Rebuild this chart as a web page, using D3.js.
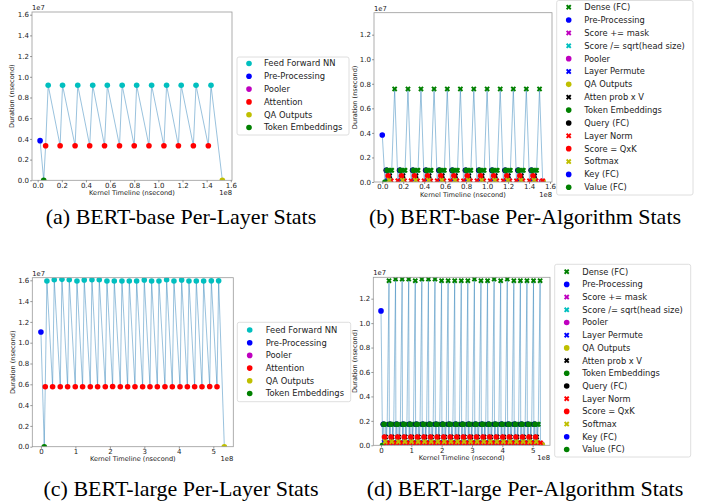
<!DOCTYPE html>
<html>
<head>
<meta charset="utf-8">
<script src="https://cdn.jsdelivr.net/npm/d3@7"></script>
<style>
body { margin: 0; background: #fff; }
text { font-family: "DejaVu Sans", sans-serif; fill: #222; }
.cap { font-family: "Liberation Serif", serif; fill: #000; }
</style>
</head>
<body>
<svg id="fig" width="707" height="502"></svg>
<script>
// x in units of 1e8 ns, y in units of 1e7 ns

// ---- per-layer categories
var layerCats = ["Feed Forward NN", "Pre-Processing", "Pooler", "Attention", "QA Outputs", "Token Embeddings"];

// BERT-base per layer
var basePre = [0.02, 0.383];
var baseTok = [0.05, 0.0];
var baseQa = [1.53, 0.0];
var baseAttnX = [0.066, 0.186, 0.31, 0.431, 0.554, 0.678, 0.8, 0.922, 1.046, 1.166, 1.29, 1.414];
var baseAttnY = [0.334, 0.334, 0.334, 0.334, 0.334, 0.334, 0.334, 0.334, 0.334, 0.334, 0.334, 0.334];
var baseFfnX = [0.087, 0.206, 0.332, 0.456, 0.577, 0.70, 0.82, 0.944, 1.068, 1.189, 1.312, 1.436];
var baseFfnY = [0.918, 0.918, 0.918, 0.918, 0.918, 0.918, 0.918, 0.918, 0.918, 0.918, 0.918, 0.918];

// BERT-large per layer
var largePre = [0.0, 1.103];
var largeTok = [0.097, 0.0];
var largeQa = [5.32, 0.0];
var largeAttnX = [0.126, 0.339, 0.561, 0.774, 0.996, 1.209, 1.432, 1.644, 1.867, 2.080, 2.302, 2.515,
                  2.728, 2.950, 3.163, 3.376, 3.598, 3.811, 4.034, 4.247, 4.459, 4.672, 4.895, 5.107];
var largeAttnY = [0.577, 0.577, 0.577, 0.577, 0.577, 0.577, 0.577, 0.577, 0.577, 0.579, 0.577, 0.577,
                  0.577, 0.577, 0.577, 0.577, 0.577, 0.577, 0.577, 0.577, 0.577, 0.577, 0.579, 0.577];
var largeFfnX = [0.174, 0.387, 0.610, 0.822, 1.045, 1.257, 1.480, 1.692, 1.915, 2.128, 2.350, 2.563,
                 2.776, 2.998, 3.211, 3.424, 3.646, 3.859, 4.082, 4.294, 4.507, 4.720, 4.943, 5.155];
var largeFfnY = [1.593, 1.606, 1.609, 1.606, 1.593, 1.603, 1.606, 1.606, 1.593, 1.593, 1.593, 1.593,
                 1.593, 1.603, 1.593, 1.593, 1.606, 1.593, 1.603, 1.593, 1.593, 1.593, 1.596, 1.596];

// ---- per-algorithm categories (legend order)
var algoCats = ["Dense (FC)", "Pre-Processing", "Score += mask", "Score /= sqrt(head size)", "Pooler",
                "Layer Permute", "QA Outputs", "Atten prob x V", "Token Embeddings", "Query (FC)",
                "Layer Norm", "Score = QxK", "Softmax", "Key (FC)", "Value (FC)"];

// kernels of one encoder layer, offset from the big Dense (FC) kernel
var opNames = ["Query (FC)", "Key (FC)", "Value (FC)", "Layer Permute", "Score = QxK",
               "Score /= sqrt(head size)", "Score += mask", "Softmax", "Atten prob x V", "Layer Permute",
               "Dense (FC)", "Layer Norm", "Dense (FC)", "Dense (FC)", "Layer Norm"];
var baseOpOffset = [-0.080, -0.076, -0.072, -0.068, -0.062, -0.058, -0.055, -0.052, -0.048, -0.044,
                    -0.038, -0.033, -0.028, 0, 0.030];
var baseOpDur = [0.095, 0.095, 0.095, 0.012, 0.050, 0.008, 0.008, 0.015, 0.050, 0.012,
                 0.095, 0.010, 0.095, null, 0.010];
var largeOpOffset = [-0.190, -0.180, -0.170, -0.160, -0.150, -0.140, -0.133, -0.126, -0.118, -0.110,
                     -0.100, -0.090, -0.060, 0, 0.012];
var largeOpDur = [0.172, 0.172, 0.172, 0.025, 0.068, 0.022, 0.022, 0.030, 0.068, 0.025,
                  0.172, 0.020, 0.172, null, 0.020];

var basePeakX = [0.118, 0.245, 0.369, 0.494, 0.620, 0.745, 0.873, 1.000, 1.125, 1.250, 1.374, 1.500];
var basePeakY = [0.758, 0.758, 0.758, 0.758, 0.758, 0.758, 0.758, 0.758, 0.758, 0.758, 0.758, 0.758];
var baseAlgoHead = [["Pre-Processing", 0.0, 0.383], ["Token Embeddings", 0.026, 0.0]];
var baseAlgoTail = [["Pooler", 1.52, 0.005], ["QA Outputs", 1.535, 0.003]];

var largePeakX = [0.264, 0.480, 0.697, 0.914, 1.130, 1.347, 1.564, 1.780, 1.997, 2.213, 2.430, 2.647,
                  2.863, 3.080, 3.296, 3.513, 3.730, 3.946, 4.163, 4.380, 4.596, 4.813, 5.029, 5.246];
var largePeakY = [1.347, 1.361, 1.361, 1.361, 1.347, 1.361, 1.361, 1.361, 1.347, 1.347, 1.347, 1.347,
                  1.347, 1.361, 1.347, 1.347, 1.361, 1.347, 1.361, 1.347, 1.347, 1.347, 1.347, 1.347];
var largeAlgoHead = [["Pre-Processing", 0.0, 1.10], ["Token Embeddings", 0.05, 0.0]];
var largeAlgoTail = [["Pooler", 5.30, 0.01], ["QA Outputs", 5.32, 0.005]];

var captions = ["(a) BERT-base Per-Layer Stats", "(b) BERT-base Per-Algorithm Stats",
                "(c) BERT-large Per-Layer Stats", "(d) BERT-large Per-Algorithm Stats"];

// ---- styles
var style = {
  "Feed Forward NN": ["#00bfbf", "o"], "Pre-Processing": ["#0000ff", "o"], "Pooler": ["#bf00bf", "o"],
  "Attention": ["#ff0000", "o"], "QA Outputs": ["#bfbf00", "o"], "Token Embeddings": ["#008000", "o"],
  "Dense (FC)": ["#008000", "x"], "Score += mask": ["#bf00bf", "x"], "Score /= sqrt(head size)": ["#00bfbf", "x"],
  "Layer Permute": ["#0000ff", "x"], "Atten prob x V": ["#000000", "x"], "Query (FC)": ["#000000", "o"],
  "Layer Norm": ["#ff0000", "x"], "Score = QxK": ["#ff0000", "o"], "Softmax": ["#bfbf00", "x"],
  "Key (FC)": ["#0000ff", "o"], "Value (FC)": ["#008000", "o"]
};

function layerSeries(pre, tok, qa, ax, ay, fx, fy) {
  var pts = [{c: "Pre-Processing", x: pre[0], y: pre[1]}, {c: "Token Embeddings", x: tok[0], y: tok[1]}];
  for (var i = 0; i < ax.length; i++) {
    pts.push({c: "Attention", x: ax[i], y: ay[i]});
    pts.push({c: "Feed Forward NN", x: fx[i], y: fy[i]});
  }
  pts.push({c: "QA Outputs", x: qa[0], y: qa[1]});
  return pts;
}

function algoSeries(head, tail, peakX, peakY, off, dur) {
  var pts = head.map(function(h) { return {c: h[0], x: h[1], y: h[2]}; });
  peakX.forEach(function(p, i) {
    opNames.forEach(function(n, j) {
      pts.push({c: n, x: p + off[j], y: dur[j] == null ? peakY[i] : dur[j]});
    });
  });
  tail.forEach(function(t) { pts.push({c: t[0], x: t[1], y: t[2]}); });
  return pts;
}

var svg = d3.select("#fig");
var clipN = 0;

function marker(g, cat, px, py) {
  var s = style[cat];
  if (s[1] == "o") {
    g.append("circle").attr("cx", px).attr("cy", py).attr("r", 2.8).attr("fill", s[0]);
  } else {
    g.append("path").attr("d", d3.symbol().type(d3.symbolCross).size(19)())
      .attr("transform", "translate(" + px + "," + py + ") rotate(45)").attr("fill", s[0]);
  }
}

function panel(o) {
  var x = d3.scaleLinear().domain(o.xDom).range([o.left, o.right]);
  var y = d3.scaleLinear().domain(o.yDom).range([o.bottom, o.top]);
  var id = "clip" + (clipN++);
  svg.append("clipPath").attr("id", id).append("rect")
    .attr("x", o.left).attr("y", o.top).attr("width", o.right - o.left).attr("height", o.bottom - o.top);

  var plot = svg.append("g").attr("clip-path", "url(#" + id + ")");
  plot.append("path").datum(o.points)
    .attr("d", d3.line().x(function(d) { return x(d.x); }).y(function(d) { return y(d.y); }))
    .attr("fill", "none").attr("stroke", "#1f77b4").attr("stroke-opacity", 0.5).attr("stroke-width", 0.9);
  o.cats.forEach(function(c) {
    o.points.filter(function(d) { return d.c == c; }).forEach(function(d) {
      marker(plot, c, x(d.x), y(d.y));
    });
  });

  svg.append("rect").attr("x", o.left).attr("y", o.top)
    .attr("width", o.right - o.left).attr("height", o.bottom - o.top)
    .attr("fill", "none").attr("stroke", "#9a9a9a").attr("stroke-width", 0.8);

  var xa = svg.append("g").attr("transform", "translate(0," + o.bottom + ")")
    .call(d3.axisBottom(x).tickValues(o.xTicks).tickFormat(o.xFmt).tickSize(2).tickPadding(0.5));
  var ya = svg.append("g").attr("transform", "translate(" + o.left + ",0)")
    .call(d3.axisLeft(y).tickValues(o.yTicks).tickFormat(d3.format(".1f")).tickSize(2).tickPadding(1));
  [xa, ya].forEach(function(a) {
    a.select(".domain").remove();
    a.selectAll("line").attr("stroke", "#555").attr("stroke-width", 0.6);
    a.selectAll("text").attr("font-size", 7).attr("font-family", "DejaVu Sans").attr("fill", "#222");
  });

  svg.append("text").attr("x", o.left).attr("y", o.top - 2).attr("font-size", 6.8).text("1e7");
  svg.append("text").attr("x", o.right).attr("y", o.bottom + 14.5).attr("text-anchor", "end")
    .attr("font-size", 6.8).text("1e8");
  svg.append("text").attr("x", (o.left + o.right) / 2).attr("y", o.bottom + 14.5).attr("text-anchor", "middle")
    .attr("font-size", 6.6).text("Kernel Timeline (nsecond)");
  svg.append("text").attr("transform", "translate(" + o.ylabX + "," + (o.top + o.bottom) / 2 + ") rotate(-90)")
    .attr("text-anchor", "middle").attr("font-size", 6.6).text("Duration (nsecond)");

  // legend
  var L = o.leg;
  svg.append("rect").attr("x", L.x0).attr("y", L.y0).attr("width", L.x1 - L.x0).attr("height", L.y1 - L.y0)
    .attr("rx", 2).attr("fill", "#fff").attr("stroke", "#d6d6d6").attr("stroke-width", 0.8);
  o.cats.forEach(function(c, i) {
    var yy = L.first + i * L.step;
    marker(svg, c, L.mx, yy);
    svg.append("text").attr("x", L.tx).attr("y", yy).attr("dy", "0.35em")
      .attr("font-size", L.fs).text(c);
  });
}

panel({
  left: 32, right: 232, top: 12, bottom: 180.3, xDom: [-0.047, 1.61], yDom: [0, 1.626],
  xTicks: d3.range(0, 1.61, 0.2), yTicks: d3.range(0, 1.61, 0.2), xFmt: d3.format(".1f"), ylabX: 14,
  cats: layerCats, points: layerSeries(basePre, baseTok, baseQa, baseAttnX, baseAttnY, baseFfnX, baseFfnY),
  leg: {x0: 237, x1: 349, y0: 57, y1: 135, first: 63.5, step: 12.8, mx: 249, tx: 264, fs: 8.4}
});
panel({
  left: 374, right: 552, top: 12.7, bottom: 182, xDom: [-0.079, 1.619], yDom: [0, 1.379],
  xTicks: d3.range(0, 1.61, 0.2), yTicks: d3.range(0, 1.21, 0.2), xFmt: d3.format(".1f"), ylabX: 357,
  cats: algoCats,
  points: algoSeries(baseAlgoHead, baseAlgoTail, basePeakX, basePeakY, baseOpOffset, baseOpDur),
  leg: {x0: 556.7, x1: 693, y0: 0.5, y1: 195, first: 7.2, step: 12.86, mx: 568.7, tx: 584.3, fs: 8.3}
});
panel({
  left: 32.3, right: 233.3, top: 277.7, bottom: 446.7, xDom: [-0.25, 5.58], yDom: [0, 1.625],
  xTicks: [0, 1, 2, 3, 4, 5], yTicks: d3.range(0, 1.61, 0.2), xFmt: d3.format("d"), ylabX: 15,
  cats: layerCats, points: layerSeries(largePre, largeTok, largeQa, largeAttnX, largeAttnY, largeFfnX, largeFfnY),
  leg: {x0: 237.3, x1: 350.7, y0: 322.3, y1: 401.7, first: 330, step: 12.7, mx: 249.7, tx: 265.7, fs: 8.4}
});
panel({
  left: 373.3, right: 550, top: 277.3, bottom: 445.3, xDom: [-0.254, 5.572], yDom: [0, 1.375],
  xTicks: [0, 1, 2, 3, 4, 5], yTicks: d3.range(0, 1.21, 0.2), xFmt: d3.format("d"), ylabX: 357,
  cats: algoCats,
  points: algoSeries(largeAlgoHead, largeAlgoTail, largePeakX, largePeakY, largeOpOffset, largeOpDur),
  leg: {x0: 554.7, x1: 690.7, y0: 264.3, y1: 457, first: 271.7, step: 12.7, mx: 566.7, tx: 582.3, fs: 8.3}
});

// sub-figure captions
svg.selectAll(".cap").data(captions).enter().append("text").attr("class", "cap")
  .attr("x", function(d, i) { return i % 2 == 0 ? 181 : 525; })
  .attr("y", function(d, i) { return i < 2 ? 224 : 496; })
  .attr("text-anchor", "middle").attr("font-size", 22).text(function(d) { return d; });
</script>
</body>
</html>
